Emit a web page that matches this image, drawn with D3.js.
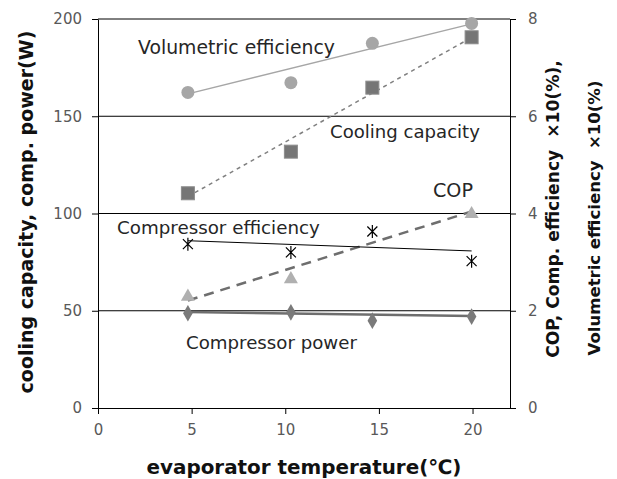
<!DOCTYPE html>
<html>
<head>
<meta charset="utf-8">
<script src="https://cdn.jsdelivr.net/npm/d3@7"></script>
<style>
  body { margin: 0; background: #fff; }
  text { font-family: "DejaVu Sans", "Open Sans", sans-serif; }
</style>
</head>
<body>
<div id="chart"></div>
<script>
// evaporator temperature (deg C) for the measured points
const temps = [4.8, 10.3, 14.65, 19.95];

// left axis series (W)
const coolingCapacity = [110.4, 131.8, 164.7, 190.6];
const compressorPower = [48.7, 49.2, 44.9, 47.0];

// right axis series (x10 %, COP)
const volumetricEff = [6.49, 6.69, 7.5, 7.91];
const compressorEff = [3.37, 3.2, 3.63, 3.02];
const copTemps = [4.8, 10.3, 19.95];
const cop = [2.29, 2.65, 3.99];

// trend lines, start / end value at first and last temperature
const trendX = [4.8, 19.95];
const coolingTrend = [108.7, 190.5];
const powerTrend = [49.3, 47.3];
const volTrend = [6.46, 7.9];
const effTrend = [3.44, 3.23];
const copTrend = [2.21, 4.04];

const xTicks = [0, 5, 10, 15, 20];
const leftTicks = [0, 50, 100, 150, 200];
const rightTicks = [0, 2, 4, 6, 8];

const W = 617, H = 479;
const margin = {top: 19, right: 107, bottom: 71, left: 98};
const width = W - margin.left - margin.right;
const height = H - margin.top - margin.bottom;

const svg = d3.select("#chart").append("svg")
    .attr("width", W)
    .attr("height", H);

const g = svg.append("g")
    .attr("transform", `translate(${margin.left},${margin.top})`);

const x = d3.scaleLinear().domain([0, 22]).range([0, width]);
const yL = d3.scaleLinear().domain([0, 200]).range([height, 0]);
const yR = d3.scaleLinear().domain([0, 8]).range([height, 0]);

// scale a text's font so it spans the wanted length
function fit(sel, len) {
    sel.each(function() {
        const fs = parseFloat(this.style.fontSize);
        const w = this.getComputedTextLength();
        this.style.fontSize = (fs * len / w).toFixed(2) + "px";
    });
}

// gridlines
g.append("g")
    .selectAll("line")
    .data(leftTicks.slice(1))
    .enter().append("line")
    .attr("x1", 0).attr("x2", width)
    .attr("y1", d => yL(d)).attr("y2", d => yL(d))
    .style("stroke", "#000").style("stroke-width", 1);

// axes
const axisStyle = function(sel) {
    sel.select(".domain").style("stroke", "#000");
    sel.selectAll(".tick line").style("stroke", "#000");
    sel.selectAll(".tick text")
        .style("fill", "#595959")
        .style("font-size", "15px")
        .style("font-family", "'DejaVu Sans', sans-serif");
};

g.append("g")
    .call(d3.axisLeft(yL).tickValues(leftTicks).tickSize(6).tickSizeOuter(0).tickPadding(10))
    .call(axisStyle);

g.append("g")
    .attr("transform", `translate(${width},0)`)
    .call(d3.axisRight(yR).tickValues(rightTicks).tickSize(6).tickSizeOuter(0).tickPadding(12))
    .call(axisStyle);

g.append("g")
    .attr("transform", `translate(0,${height})`)
    .call(d3.axisBottom(x).tickValues(xTicks).tickSize(6).tickSizeOuter(0).tickPadding(10))
    .call(axisStyle);

// trend lines
const line = (ys, yScale) => d3.line()
    .x((d, i) => x(trendX[i]))
    .y(d => yScale(d))(ys);

g.append("path").attr("d", line(volTrend, yR))
    .style("fill", "none").style("stroke", "#a6a6a6").style("stroke-width", 1.5);
g.append("path").attr("d", line(coolingTrend, yL))
    .style("fill", "none").style("stroke", "#808080").style("stroke-width", 1.5)
    .style("stroke-dasharray", "4,4");
g.append("path").attr("d", line(copTrend, yR))
    .style("fill", "none").style("stroke", "#6e6e6e").style("stroke-width", 2.5)
    .style("stroke-dasharray", "10,7");
g.append("path").attr("d", line(effTrend, yR))
    .style("fill", "none").style("stroke", "#000").style("stroke-width", 1);
g.append("path").attr("d", line(powerTrend, yL))
    .style("fill", "none").style("stroke", "#6e6e6e").style("stroke-width", 2.5);

// markers
g.append("g").selectAll("circle")
    .data(volumetricEff).enter().append("circle")
    .attr("cx", (d, i) => x(temps[i]))
    .attr("cy", d => yR(d))
    .attr("r", 6.5)
    .style("fill", "#a6a6a6");

g.append("g").selectAll("rect")
    .data(coolingCapacity).enter().append("rect")
    .attr("x", (d, i) => x(temps[i]) - 6.5)
    .attr("y", d => yL(d) - 6.5)
    .attr("width", 13).attr("height", 13)
    .style("fill", "#767676")
    .style("stroke", "#8c8c8c");

const tri = d3.symbol().type(d3.symbolTriangle).size(85);
g.append("g").selectAll("path")
    .data(cop).enter().append("path")
    .attr("d", tri)
    .attr("transform", (d, i) => `translate(${x(copTemps[i])},${yR(d)})`)
    .style("fill", "#b0b0b0");

const dia = d3.symbol().type(d3.symbolDiamond).size(80);
g.append("g").selectAll("path")
    .data(compressorPower).enter().append("path")
    .attr("d", dia)
    .attr("transform", (d, i) => `translate(${x(temps[i])},${yL(d)})`)
    .style("fill", "#7a7a7a");

// star markers (x with a vertical bar)
const star = g.append("g").selectAll("g")
    .data(compressorEff).enter().append("g")
    .attr("transform", (d, i) => `translate(${x(temps[i])},${yR(d)})`);
star.append("path")
    .attr("d", "M-5,-5L5,5M-5,5L5,-5M0,-6.5L0,6.5")
    .style("stroke", "#000").style("stroke-width", 1.2);

// series labels, with the length each spans in the picture
const labels = [
    {t: "Volumetric efficiency", x: 138, y: 54, w: 197},
    {t: "Cooling capacity", x: 330, y: 138, w: 150},
    {t: "COP", x: 433, y: 197, w: 40},
    {t: "Compressor efficiency", x: 117, y: 234, w: 203},
    {t: "Compressor power", x: 186, y: 349, w: 171}
];
svg.append("g").selectAll("text")
    .data(labels).enter().append("text")
    .attr("x", d => d.x).attr("y", d => d.y)
    .style("font-size", "16px")
    .style("fill", "#262626")
    .text(d => d.t)
    .each(function(d) { fit(d3.select(this), d.w); });

// axis titles
svg.append("text")
    .attr("transform", "translate(33,212) rotate(-90)")
    .attr("text-anchor", "middle")
    .style("font-size", "17px").style("font-weight", "bold")
    .style("fill", "#111")
    .text("cooling capacity, comp. power(W)")
    .call(fit, 363);

svg.append("text")
    .attr("x", 304).attr("y", 474)
    .attr("text-anchor", "middle")
    .style("font-size", "18px").style("font-weight", "bold")
    .style("fill", "#111")
    .text("evaporator temperature(\u2103)")
    .call(fit, 315);

svg.append("text")
    .attr("transform", "translate(559,209) rotate(-90)")
    .attr("text-anchor", "middle")
    .style("font-size", "15px").style("font-weight", "bold")
    .style("fill", "#111")
    .style("white-space", "pre")
    .text("COP, Comp. efficiency  \u00d710(%),")
    .call(fit, 298);

svg.append("text")
    .attr("transform", "translate(600,218) rotate(-90)")
    .attr("text-anchor", "middle")
    .style("font-size", "15px").style("font-weight", "bold")
    .style("fill", "#111")
    .style("white-space", "pre")
    .text("Volumetric efficiency  \u00d710(%)")
    .call(fit, 275);
</script>
</body>
</html>
